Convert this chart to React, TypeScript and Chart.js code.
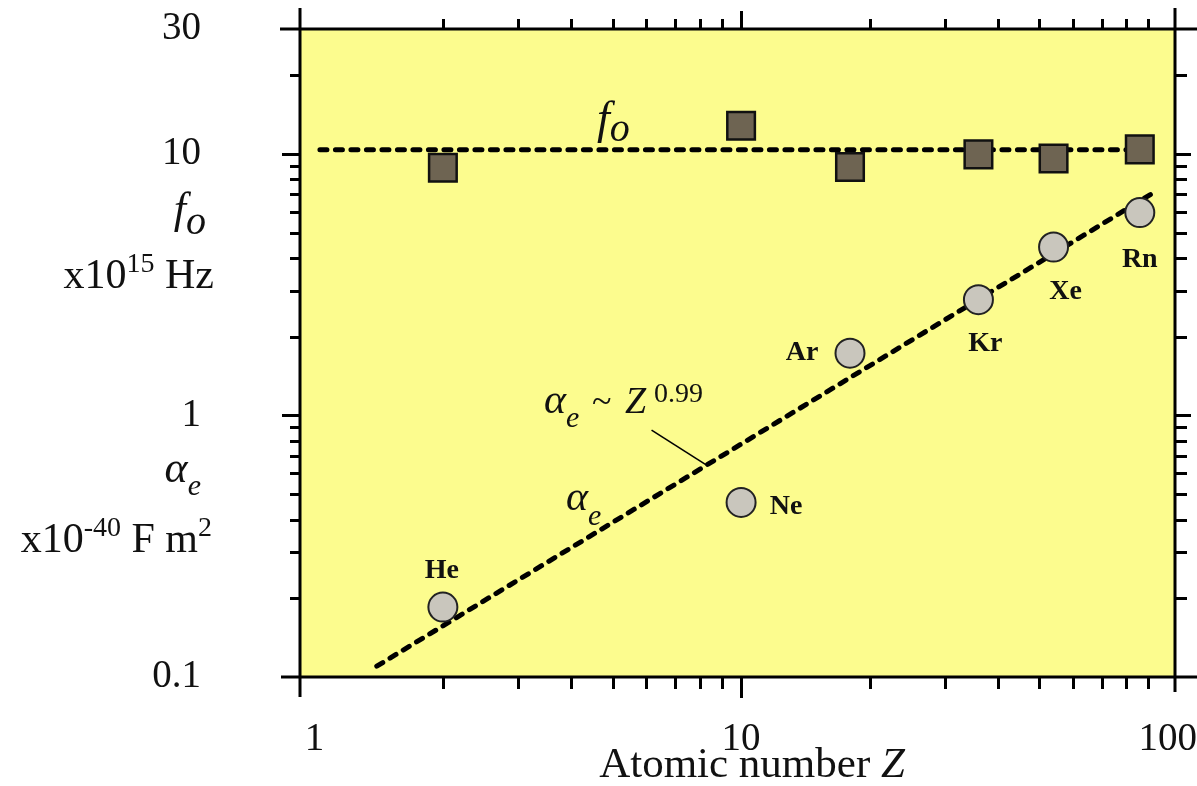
import React, { useEffect, useRef } from 'react';
import { Chart, registerables } from 'chart.js';

Chart.register(...registerables);

// ---------- data ----------
const elements = ['He', 'Ne', 'Ar', 'Kr', 'Xe', 'Rn'];
const atomicNumber = [2, 10, 18, 36, 54, 86];
const foValues = [8.85, 12.8, 8.9, 9.95, 9.6, 10.4];
const alphaValues = [0.185, 0.465, 1.73, 2.77, 4.4, 5.96];
const foFitZ = [1.03, 94];
const foFitValues = [10.36, 10.36];
const alphaFitZ = [1.4, 91.8];
const alphaFitValues = [0.11, 7.04];

const xTickValues = [1, 2, 3, 4, 5, 6, 7, 8, 9, 10, 20, 30, 40, 50, 60, 70, 80, 90, 100];
const xTickLabels = [1, 10, 100];
const yTickValues = [
  0.1, 0.2, 0.3, 0.4, 0.5, 0.6, 0.7, 0.8, 0.9,
  1, 2, 3, 4, 5, 6, 7, 8, 9,
  10, 20, 30,
];
const yTickLabels = [0.1, 1, 10, 30];
const xMin = 0.925;
const xMax = 104;
const yMin = 0.1;
const yMax = 30;

// ---------- style ----------
const SERIF = '"Liberation Serif", "Times New Roman", Times, serif';
const BG = '#FCFC8E';
const INK = '#111111';
// label offsets (px) relative to each circle
const labelOffsets: [number, number][] = [
  [-1, -36],
  [45, 4],
  [-48, 0],
  [7, 44],
  [12, 45],
  [0, 47],
];

type Part = { t: string; f: string; dy?: number };

function drawParts(ctx: CanvasRenderingContext2D, x: number, y: number, parts: Part[], align: 'left' | 'right' | 'center') {
  let w = 0;
  for (const p of parts) {
    ctx.font = p.f;
    w += ctx.measureText(p.t).width;
  }
  let cx = align === 'right' ? x - w : align === 'center' ? x - w / 2 : x;
  ctx.textAlign = 'left';
  ctx.textBaseline = 'alphabetic';
  for (const p of parts) {
    ctx.font = p.f;
    ctx.fillText(p.t, cx, y + (p.dy || 0));
    cx += ctx.measureText(p.t).width;
  }
}

const framePlugin = {
  id: 'frameAndText',
  beforeDraw(chart: any) {
    const { ctx, chartArea } = chart;
    const { left, top, right, bottom } = chartArea;
    ctx.save();
    ctx.fillStyle = BG;
    ctx.fillRect(left, top, right - left, bottom - top);
    ctx.restore();
  },
  afterDraw(chart: any) {
    const { ctx, chartArea, scales } = chart;
    const { left, top, right, bottom } = chartArea;
    const xs = scales.x;
    const ys = scales.y;
    ctx.save();
    ctx.strokeStyle = '#000';
    ctx.lineCap = 'butt';

    // frame with extended corners
    ctx.lineWidth = 3;
    ctx.beginPath();
    ctx.moveTo(left, top - 21); ctx.lineTo(left, bottom + 20);
    ctx.moveTo(right, top - 21); ctx.lineTo(right, bottom + 15);
    ctx.moveTo(left - 20, top); ctx.lineTo(chart.width, top);
    ctx.moveTo(left - 19, bottom); ctx.lineTo(chart.width, bottom);
    ctx.stroke();

    // tick marks
    ctx.lineWidth = 3;
    ctx.beginPath();
    for (const v of xTickValues) {
      if (v === 1 || v === 100) continue;
      const px = Math.round(xs.getPixelForValue(v)) + 0.5;
      const major = v === 10;
      ctx.moveTo(px, bottom); ctx.lineTo(px, bottom + (major ? 21 : 12));
      ctx.moveTo(px, top); ctx.lineTo(px, top - (major ? 18 : 10));
    }
    for (const v of yTickValues) {
      if (v === yMin || v === yMax) continue;
      const py = Math.round(ys.getPixelForValue(v)) + 0.5;
      const major = v === 1 || v === 10;
      ctx.moveTo(left, py); ctx.lineTo(left - (major ? 18 : 10), py);
      ctx.moveTo(right, py); ctx.lineTo(right + (major ? 16 : 12), py);
    }
    ctx.stroke();

    // leader line for the fit annotation
    const zL = 8.3;
    const yL = alphaFitValues[0] * Math.pow(zL / alphaFitZ[0], Math.log(alphaFitValues[1] / alphaFitValues[0]) / Math.log(alphaFitZ[1] / alphaFitZ[0]));
    const lx = xs.getPixelForValue(zL);
    const ly = ys.getPixelForValue(yL);
    ctx.lineWidth = 1.6;
    ctx.beginPath();
    ctx.moveTo(lx, ly);
    ctx.lineTo(lx - 55, ly - 35);
    ctx.stroke();

    ctx.fillStyle = INK;

    // element labels
    ctx.font = `bold 28px ${SERIF}`;
    ctx.textAlign = 'center';
    ctx.textBaseline = 'middle';
    elements.forEach((el, i) => {
      const px = xs.getPixelForValue(atomicNumber[i]) + labelOffsets[i][0];
      const py = ys.getPixelForValue(alphaValues[i]) + labelOffsets[i][1];
      ctx.fillText(el, px, py);
    });

    // left axis descriptions
    drawParts(ctx, 206, 223, [
      { t: 'f', f: `italic 44px ${SERIF}` },
      { t: 'o', f: `italic 40px ${SERIF}`, dy: 11 },
    ], 'right');
    drawParts(ctx, 214, 288, [
      { t: 'x10', f: `42px ${SERIF}` },
      { t: '15', f: `28px ${SERIF}`, dy: -16 },
      { t: ' Hz', f: `42px ${SERIF}` },
    ], 'right');
    drawParts(ctx, 201, 482, [
      { t: 'α', f: `italic 44px ${SERIF}` },
      { t: 'e', f: `italic 30px ${SERIF}`, dy: 13 },
    ], 'right');
    drawParts(ctx, 212, 552, [
      { t: 'x10', f: `42px ${SERIF}` },
      { t: '-40', f: `28px ${SERIF}`, dy: -16 },
      { t: ' F m', f: `42px ${SERIF}` },
      { t: '2', f: `28px ${SERIF}`, dy: -16 },
    ], 'right');

    // in-plot annotations
    drawParts(ctx, 597, 133, [
      { t: 'f', f: `italic 46px ${SERIF}` },
      { t: 'o', f: `italic 40px ${SERIF}`, dy: 8 },
    ], 'left');
    ctx.textAlign = 'left';
    ctx.textBaseline = 'alphabetic';
    ctx.font = `italic 42px ${SERIF}`;
    ctx.fillText('α', 544, 413);
    ctx.font = `italic 30px ${SERIF}`;
    ctx.fillText('e', 566, 427);
    ctx.font = `36px ${SERIF}`;
    ctx.fillText('~', 592, 413);
    ctx.font = `italic 38px ${SERIF}`;
    ctx.fillText('Z', 625, 413);
    ctx.font = `28px ${SERIF}`;
    ctx.fillText('0.99', 654, 402);

    ctx.font = `italic 42px ${SERIF}`;
    ctx.fillText('α', 566, 510);
    ctx.font = `italic 30px ${SERIF}`;
    ctx.fillText('e', 588, 525);

    // x axis title
    drawParts(ctx, 752, 777, [
      { t: 'Atomic number ', f: `43px ${SERIF}` },
      { t: 'Z', f: `italic 43px ${SERIF}` },
    ], 'center');

    ctx.restore();
  },
};

export default function App() {
  const canvasRef = useRef<HTMLCanvasElement | null>(null);

  useEffect(() => {
    document.body.style.margin = '0';
    const canvas = canvasRef.current;
    if (!canvas) return;
    const chart = new Chart(canvas, {
      type: 'scatter',
      data: {
        datasets: [
          {
            label: 'fo',
            data: atomicNumber.map((z, i) => ({ x: z, y: foValues[i] })),
            pointStyle: 'rect',
            pointRadius: 19.5,
            backgroundColor: '#6E6452',
            borderColor: '#111',
            borderWidth: 2.5,
            order: 0,
          },
          {
            label: 'alpha',
            data: atomicNumber.map((z, i) => ({ x: z, y: alphaValues[i] })),
            pointStyle: 'circle',
            pointRadius: 14.5,
            backgroundColor: '#C9C6BD',
            borderColor: '#222',
            borderWidth: 2,
            order: 0,
          },
          {
            label: 'fo fit',
            data: foFitZ.map((z, i) => ({ x: z, y: foFitValues[i] })),
            showLine: true,
            pointRadius: 0,
            borderColor: '#000',
            borderWidth: 5,
            borderDash: [7, 8.5],
            borderCapStyle: 'round',
            order: 1,
          },
          {
            label: 'alpha fit',
            data: alphaFitZ.map((z, i) => ({ x: z, y: alphaFitValues[i] })),
            showLine: true,
            pointRadius: 0,
            borderColor: '#000',
            borderWidth: 5,
            borderDash: [7, 8.5],
            borderCapStyle: 'round',
            order: 1,
          },
        ],
      } as any,
      options: {
        animation: false,
        responsive: false,
        events: [],
        layout: { padding: { top: 29, right: 19, left: 0, bottom: 0 } },
        plugins: { legend: { display: false }, tooltip: { enabled: false } },
        scales: {
          x: {
            type: 'logarithmic',
            min: xMin,
            max: xMax,
            afterBuildTicks: (s: any) => { s.ticks = xTickValues.map((v) => ({ value: v })); },
            afterFit: (s: any) => {
              s.height = 109;
              s.paddingLeft = 0; s.paddingRight = 0; s.paddingTop = 0; s.paddingBottom = 0;
            },
            grid: { display: false },
            border: { display: false },
            ticks: {
              autoSkip: false,
              maxRotation: 0,
              minRotation: 0,
              padding: 31,
              color: INK,
              font: { family: SERIF, size: 39 },
              callback: (v: any) => (xTickLabels.includes(Number(v)) ? String(v) : ''),
            },
          },
          y: {
            type: 'logarithmic',
            min: yMin,
            max: yMax,
            afterBuildTicks: (s: any) => { s.ticks = yTickValues.map((v) => ({ value: v })); },
            afterFit: (s: any) => {
              s.width = 300;
              s.paddingLeft = 0; s.paddingRight = 0; s.paddingTop = 0; s.paddingBottom = 0;
            },
            grid: { display: false },
            border: { display: false },
            ticks: {
              autoSkip: false,
              padding: 91,
              color: INK,
              font: { family: SERIF, size: 39 },
              callback: (v: any) => (yTickLabels.includes(Number(v)) ? String(v) : ''),
            },
          },
        },
      } as any,
      plugins: [framePlugin],
    });
    return () => chart.destroy();
  }, []);

  return (
    <div style={{ width: 1197, height: 786, position: 'relative' }}>
      <canvas ref={canvasRef} width={1197} height={786} style={{ display: 'block' }} />
    </div>
  );
}
